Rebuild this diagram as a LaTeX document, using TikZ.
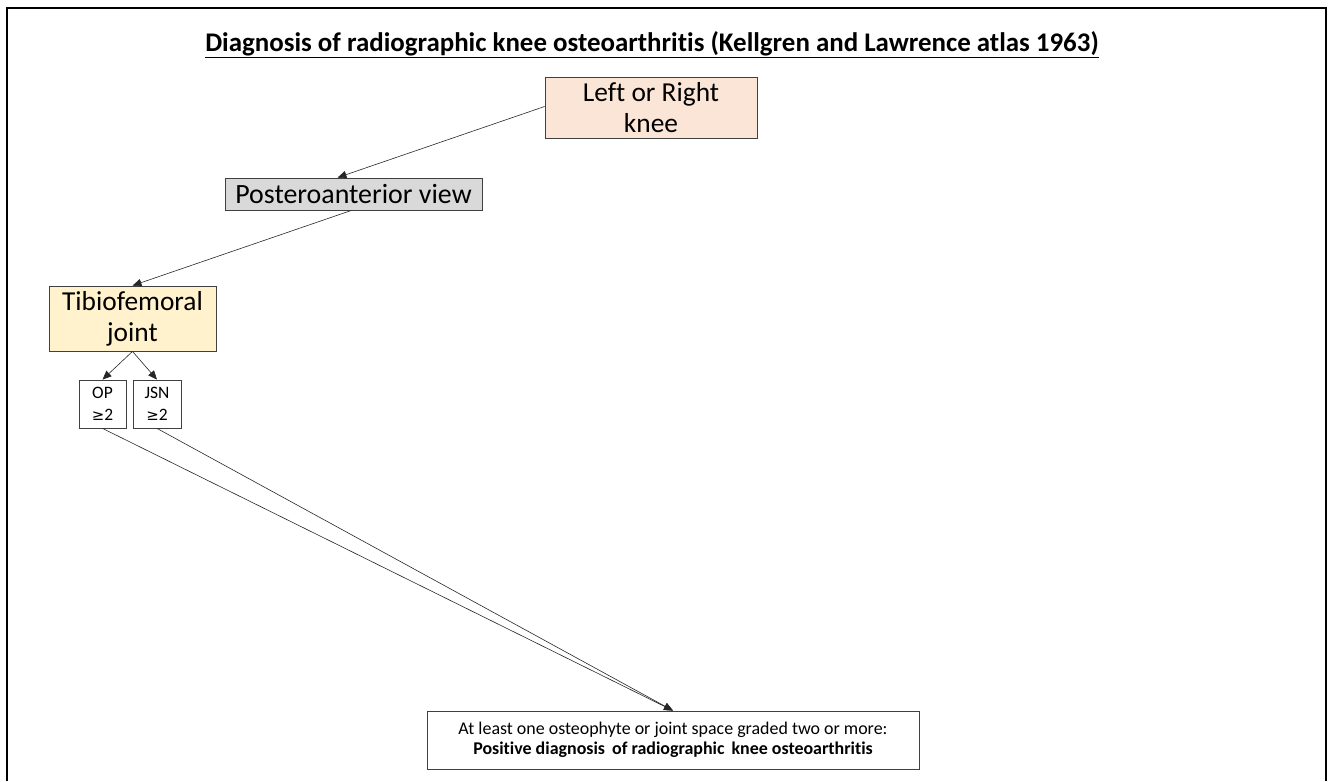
\documentclass[tikz,border=0pt]{standalone}
\usepackage{fontspec}
\setmainfont[Ligatures={NoCommon}]{Carlito}
\newfontfamily\symfont{DejaVu Sans}
\usetikzlibrary{arrows.meta}
\definecolor{kneefill}{HTML}{FBE5D6}
\definecolor{viewfill}{HTML}{D9D9D9}
\definecolor{jointfill}{HTML}{FFF2CC}
\definecolor{edgegray}{HTML}{404040}
\begin{document}
\begin{tikzpicture}[x=1bp,y=-1bp,
  box/.style={draw=edgegray, line width=0.8bp, inner sep=0pt, align=center, text=black},
  conn/.style={draw=black!85, line width=0.6bp, -{Triangle[length=9bp,width=7.5bp]}}]
\useasboundingbox (0,0) rectangle (1335,781);
% page frame, open at the bottom
\draw[line width=2bp] (7,781) -- (7,8) -- (1326,8) -- (1326,781);
% heading
\node (title) at (652,45) {\fontsize{27}{31}\selectfont\bfseries\underline{Diagnosis of radiographic knee osteoarthritis (Kellgren and Lawrence atlas 1963)}};
% boxes
\node[box, fill=kneefill, minimum width=212bp, minimum height=61bp, font=\fontsize{27.5}{31}\selectfont] (knee) at (651,107.5) {Left or Right\\knee};
\node[box, fill=viewfill, minimum width=257bp, minimum height=32bp, font=\fontsize{28}{31}\selectfont] (view) at (353.5,194) {Posteroanterior view};
\node[box, fill=jointfill, minimum width=167bp, minimum height=65bp, font=\fontsize{27.5}{31}\selectfont] (joint) at (132.5,318.5) {Tibiofemoral\\joint};
\node[box, fill=white, minimum width=47bp, minimum height=48bp, font=\fontsize{17.5}{22}\selectfont] (op) at (102.5,404) {OP\\{\symfont\fontsize{15}{22}\selectfont ≥}2};
\node[box, fill=white, minimum width=48bp, minimum height=48bp, font=\fontsize{17.5}{22}\selectfont] (jsn) at (157,404) {JSN\\{\symfont\fontsize{15}{22}\selectfont ≥}2};
\node[box, fill=white, minimum width=492bp, minimum height=58bp, font=\fontsize{18}{20}\selectfont] (result) at (673,740) {At least one osteophyte or joint space graded two or more:\\\textbf{Positive diagnosis\ \,of radiographic\ \,knee osteoarthritis}};
% connectors
\coordinate (kneeL) at ([yshift=1bp]knee.west);
\draw[conn] (kneeL) -- ([xshift=-16bp]view.north);
\draw[conn] ([xshift=-2bp]view.south) -- (joint.north);
\draw[conn] (joint.south) -- (op.north);
\draw[conn] (joint.south) -- (jsn.north);
\draw[conn] (op.south) -- (result.north);
\draw[conn] (jsn.south) -- (result.north);
\end{tikzpicture}
\end{document}
